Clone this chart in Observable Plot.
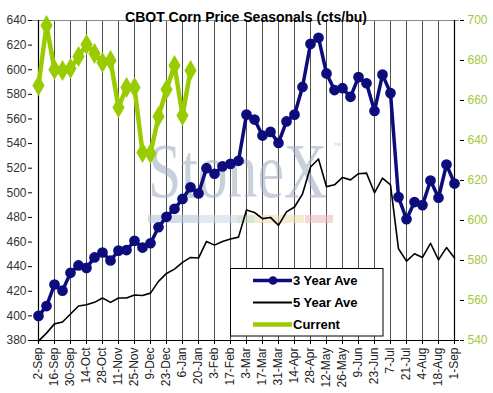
<!DOCTYPE html>
<html><head><meta charset="utf-8">
<script src="https://cdn.jsdelivr.net/npm/d3@7"></script>
<script src="https://cdn.jsdelivr.net/npm/@observablehq/plot@0.6"></script>
<style>body{margin:0;background:#fff;font-family:Arial,"Liberation Sans",sans-serif}</style>
</head><body><div id="chart"></div>
<script>
const weeks = ["2-Sep","9-Sep","16-Sep","23-Sep","30-Sep","7-Oct","14-Oct","21-Oct","28-Oct","4-Nov","11-Nov","18-Nov","25-Nov","2-Dec","9-Dec","16-Dec","23-Dec","30-Dec","6-Jan","13-Jan","20-Jan","27-Jan","3-Feb","10-Feb","17-Feb","24-Feb","3-Mar","10-Mar","17-Mar","24-Mar","31-Mar","7-Apr","14-Apr","21-Apr","28-Apr","5-May","12-May","19-May","26-May","2-Jun","9-Jun","16-Jun","23-Jun","30-Jun","7-Jul","14-Jul","21-Jul","28-Jul","4-Aug","11-Aug","18-Aug","25-Aug","1-Sep"];
const tickLabels = weeks.filter((d, i) => i % 2 === 0);
const threeYear = [400,408,425.5,420.5,435,441,439,447.5,451.5,445,453,453.5,461,455.5,459,472,480.5,487,495,504.5,499.5,520,515.5,521.5,523.5,526,563.5,559.5,546.5,549.5,540.5,558,563.5,586,621,626,597,583.5,585,578,594,589,566.5,596,581,496.5,478.5,492.5,490,510,496,523,507.5];
const fiveYear = [379.5,386,393.5,395,401.5,408,409,411,414.5,411,414.5,414.5,417,416.5,418.5,428,434.5,438,443.5,447.5,447,460.5,457.5,460.5,462.5,464,486,484,479,480,473.5,484.5,488.5,499,521,527.5,505,506.5,512.5,510.5,515.5,516,500,512,506.5,454.5,444.5,450.5,447.5,459,445.5,455.5,447];
const current = [667.5,697.5,675.5,675,676,682,688,683.5,679,680,656.5,666.5,666.5,634,633.5,652,665.5,677.5,652.5,675];
const leftTicks = [380,400,420,440,460,480,500,520,540,560,580,600,620,640];
const rightTicks = [540,560,580,600,620,640,660,680,700];
const seriesNames = ["3 Year Ave","5 Year Ave","Current"];
const titleText = "CBOT Corn Price Seasonals (cts/bu)";

const NAVY = "#0c0c7c", GREEN = "#99cc00", RIGHTTXT = "#a3c940";
// right axis (540–700) mapped onto the left scale (380–640)
const toLeft = v => 380 + (v - 540) * 260 / 160;
const toRight = v => 540 + (v - 380) * 160 / 260;

const d3y = threeYear.map((v, i) => ({x: weeks[i], y: v}));
const d5y = fiveYear.map((v, i) => ({x: weeks[i], y: v}));
const dcur = current.map((v, i) => ({x: weeks[i], y: toLeft(v)}));

const svg = Plot.plot({
  width: 493, height: 393,
  marginLeft: 32, marginRight: 34, marginTop: 20, marginBottom: 53,
  style: {fontFamily: "Arial, 'Liberation Sans', sans-serif", fontSize: "12px", background: "white", color: "black"},
  x: {type: "point", domain: weeks, padding: 0},
  y: {domain: [380, 640]},
  marks: [
    Plot.ruleX(tickLabels, {stroke: "#222", strokeWidth: 0.8}),
    Plot.ruleY([640], {stroke: "#8a8a8a", strokeWidth: 1.2}),
    Plot.ruleY([380], {stroke: "black", strokeWidth: 1.2}),
    Plot.ruleX([weeks[0]], {stroke: "black", strokeWidth: 1.2}),
    Plot.ruleX([weeks[weeks.length - 1]], {stroke: "black", strokeWidth: 1.2}),
    Plot.axisY(leftTicks, {anchor: "left", tickSize: 4, tickPadding: 2, fill: "#333", stroke: "black", fontSize: 12, label: null}),
    Plot.axisY(rightTicks.map(toLeft), {anchor: "right", tickSize: 4, tickPadding: 4, fill: RIGHTTXT, stroke: "black", fontSize: 12, label: null, tickFormat: d => Math.round(toRight(d))}),
    Plot.axisX(tickLabels, {anchor: "bottom", tickSize: 4, tickPadding: 3, tickRotate: -90, fill: "#222", stroke: "black", fontSize: 12, label: null}),
    Plot.line(d5y, {x: "x", y: "y", stroke: "black", strokeWidth: 1.6}),
    Plot.line(d3y, {x: "x", y: "y", stroke: NAVY, strokeWidth: 3.5}),
    Plot.dot(d3y, {x: "x", y: "y", r: 4.6, fill: NAVY, stroke: NAVY}),
    Plot.line(dcur, {x: "x", y: "y", stroke: GREEN, strokeWidth: 4.5}),
    Plot.dot(dcur, {x: "x", y: "y", symbol: "diamond", r: 5.5, fill: GREEN, stroke: GREEN}),
    Plot.text([titleText], {frameAnchor: "top", dy: -8, fontSize: 14, fontWeight: "bold", fill: "black"})
  ]
});
document.getElementById("chart").appendChild(svg);

// watermark (decorative)
const sel = d3.select(svg);
const wm = sel.insert("g", "g[aria-label='line']").attr("opacity", 0.6).attr("text-anchor", "start");
wm.append("g").attr("transform", "translate(148,197) scale(1,1.3)")
  .append("text").attr("x", 0).attr("y", 0).attr("font-family", "'Liberation Serif', 'DejaVu Serif', serif")
  .attr("font-size", 60).attr("fill", "#a3b1c4").attr("textLength", 179).attr("lengthAdjust", "spacingAndGlyphs").text("StoneX");
wm.append("text").attr("x", 333).attr("y", 148).attr("font-size", 8).attr("fill", "#a3b1c4").text("™");
[[148, 52, "#b8c6d8"], [200, 37, "#cfdde8"], [237, 17, "#bcd5bc"], [254, 50, "#f1ddb0"], [305, 28, "#eebcbc"]].forEach(([x, w, c]) =>
  wm.append("rect").attr("x", x).attr("y", 215).attr("width", w).attr("height", 8).attr("fill", c));

// legend
const lg = sel.append("g").attr("font-family", "Arial, 'Liberation Sans', sans-serif").attr("text-anchor", "start");
lg.append("rect").attr("x", 230.5).attr("y", 268.5).attr("width", 152.5).attr("height", 67.5).attr("fill", "white").attr("stroke", "black").attr("stroke-width", 1);
const rows = [280.5, 302.5, 324.5];
seriesNames.forEach((name, k) => {
  const y = rows[k];
  if (k === 0) {
    lg.append("line").attr("x1", 253).attr("x2", 292).attr("y1", y).attr("y2", y).attr("stroke", NAVY).attr("stroke-width", 3.5);
    lg.append("circle").attr("cx", 273).attr("cy", y).attr("r", 4.3).attr("fill", NAVY);
  } else if (k === 1) {
    lg.append("line").attr("x1", 253).attr("x2", 292).attr("y1", y).attr("y2", y).attr("stroke", "black").attr("stroke-width", 2);
  } else {
    lg.append("line").attr("x1", 253).attr("x2", 292).attr("y1", y).attr("y2", y).attr("stroke", GREEN).attr("stroke-width", 4.5);
  }
  lg.append("text").attr("x", 293).attr("y", y).attr("dy", "0.36em").attr("font-size", 13).attr("font-weight", "bold").attr("fill", "black").text(name);
});
</script>
</body></html>
